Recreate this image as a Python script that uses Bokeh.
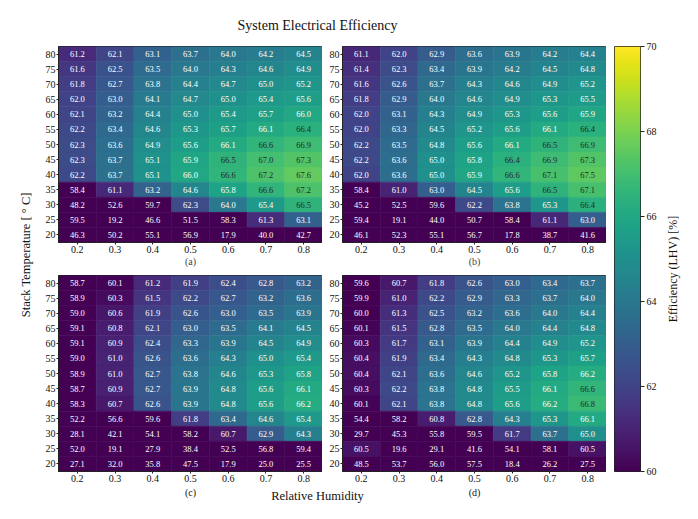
import numpy as np
from bokeh.plotting import figure
from bokeh.models import ColumnDataSource, LinearColorMapper, FixedTicker, Range1d
from bokeh.layouts import row, column
from bokeh.palettes import Viridis256
from bokeh.transform import linear_cmap
from bokeh.embed import file_html
from bokeh.resources import INLINE

FONT = "Liberation Serif"

rh = [0.2, 0.3, 0.4, 0.5, 0.6, 0.7, 0.8]
temps = [80, 75, 70, 65, 60, 55, 50, 45, 40, 35, 30, 25, 20]

eff_a = [
    [61.2, 62.1, 63.1, 63.7, 64.0, 64.2, 64.5],
    [61.6, 62.5, 63.5, 64.0, 64.3, 64.6, 64.9],
    [61.8, 62.7, 63.8, 64.4, 64.7, 65.0, 65.2],
    [62.0, 63.0, 64.1, 64.7, 65.0, 65.4, 65.6],
    [62.1, 63.2, 64.4, 65.0, 65.4, 65.7, 66.0],
    [62.2, 63.4, 64.6, 65.3, 65.7, 66.1, 66.4],
    [62.3, 63.6, 64.9, 65.6, 66.1, 66.6, 66.9],
    [62.3, 63.7, 65.1, 65.9, 66.5, 67.0, 67.3],
    [62.2, 63.7, 65.1, 66.0, 66.6, 67.2, 67.6],
    [58.4, 61.1, 63.2, 64.6, 65.8, 66.6, 67.2],
    [48.2, 52.6, 59.7, 62.3, 64.0, 65.4, 66.5],
    [59.5, 19.2, 46.6, 51.5, 58.3, 61.3, 63.1],
    [46.3, 50.2, 55.1, 56.9, 17.9, 40.0, 42.7],
]
eff_b = [
    [61.1, 62.0, 62.9, 63.6, 63.9, 64.2, 64.4],
    [61.4, 62.3, 63.4, 63.9, 64.2, 64.5, 64.8],
    [61.6, 62.6, 63.7, 64.3, 64.6, 64.9, 65.2],
    [61.8, 62.9, 64.0, 64.6, 64.9, 65.3, 65.5],
    [62.0, 63.1, 64.3, 64.9, 65.3, 65.6, 65.9],
    [62.0, 63.3, 64.5, 65.2, 65.6, 66.1, 66.4],
    [62.2, 63.5, 64.8, 65.6, 66.1, 66.5, 66.9],
    [62.2, 63.6, 65.0, 65.8, 66.4, 66.9, 67.3],
    [62.0, 63.6, 65.0, 65.9, 66.6, 67.1, 67.5],
    [58.4, 61.0, 63.0, 64.5, 65.6, 66.5, 67.1],
    [45.2, 52.5, 59.6, 62.2, 63.8, 65.3, 66.4],
    [59.4, 19.1, 44.0, 50.7, 58.4, 61.1, 63.0],
    [46.1, 52.3, 55.1, 56.7, 17.8, 38.7, 41.6],
]
eff_c = [
    [58.7, 60.1, 61.2, 61.9, 62.4, 62.8, 63.2],
    [58.9, 60.3, 61.5, 62.2, 62.7, 63.2, 63.6],
    [59.0, 60.6, 61.9, 62.6, 63.0, 63.5, 63.9],
    [59.1, 60.8, 62.1, 63.0, 63.5, 64.1, 64.5],
    [59.1, 60.9, 62.4, 63.3, 63.9, 64.5, 64.9],
    [59.0, 61.0, 62.6, 63.6, 64.3, 65.0, 65.4],
    [58.9, 61.0, 62.7, 63.8, 64.6, 65.3, 65.8],
    [58.7, 60.9, 62.7, 63.9, 64.8, 65.6, 66.1],
    [58.3, 60.7, 62.6, 63.9, 64.8, 65.6, 66.2],
    [52.2, 56.6, 59.6, 61.8, 63.4, 64.6, 65.4],
    [28.1, 42.1, 54.1, 58.2, 60.7, 62.9, 64.3],
    [52.0, 19.1, 27.9, 38.4, 52.5, 56.8, 59.4],
    [27.1, 32.0, 35.8, 47.5, 17.9, 25.0, 25.5],
]
eff_d = [
    [59.6, 60.7, 61.8, 62.6, 63.0, 63.4, 63.7],
    [59.9, 61.0, 62.2, 62.9, 63.3, 63.7, 64.0],
    [60.0, 61.3, 62.5, 63.2, 63.6, 64.0, 64.4],
    [60.1, 61.5, 62.8, 63.5, 64.0, 64.4, 64.8],
    [60.3, 61.7, 63.1, 63.9, 64.4, 64.9, 65.2],
    [60.4, 61.9, 63.4, 64.3, 64.8, 65.3, 65.7],
    [60.4, 62.1, 63.6, 64.6, 65.2, 65.8, 66.2],
    [60.3, 62.2, 63.8, 64.8, 65.5, 66.1, 66.6],
    [60.1, 62.1, 63.8, 64.8, 65.6, 66.2, 66.8],
    [54.4, 58.2, 60.8, 62.8, 64.3, 65.3, 66.1],
    [29.7, 45.3, 55.8, 59.5, 61.7, 63.7, 65.0],
    [60.5, 19.6, 29.1, 41.6, 54.1, 58.1, 60.5],
    [48.5, 53.7, 56.0, 57.5, 18.4, 26.2, 27.5],
]
panel_labels = ["(a)", "(b)", "(c)", "(d)"]
cbar_ticks = [60, 62, 64, 66, 68, 70]
VMIN, VMAX = 60, 70

title_text = "System Electrical Efficiency"
xlabel_text = "Relative Humidity"
ylabel_text = "Stack Temperature [ \u00b0 C]"
clabel_text = "Efficiency (LHV) [%]"

FRAME_W, FRAME_H = 264, 196
TOP_B, MID_B, BOT_B = 33, 14, 14


def make_source(vals):
    xs, ys, vs, labels, tcs = [], [], [], [], []
    for i, t in enumerate(temps):
        for j, h in enumerate(rh):
            v = vals[i][j]
            xs.append(h)
            ys.append(t)
            vs.append(v)
            labels.append(f"{v:.1f}")
            tcs.append("#262626" if v >= 66.25 else "white")
    return ColumnDataSource(dict(x=xs, y=ys, v=vs, label=labels, tc=tcs))


def style_axis(ax):
    ax.major_label_text_font = FONT
    ax.major_label_text_font_size = "10px"
    ax.major_label_text_color = "#111111"
    ax.axis_line_color = "#222222"
    ax.major_tick_line_color = "#222222"
    ax.major_tick_in = 0
    ax.major_tick_out = 2
    ax.major_label_standoff = 1
    ax.minor_tick_line_color = None


def make_panel(vals, left_border, bottom_border, xlabel=None):
    p = figure(width=left_border + FRAME_W, height=FRAME_H + bottom_border,
               x_range=Range1d(0.15, 0.85), y_range=Range1d(17.5, 82.5),
               output_backend="svg", toolbar_location=None, title=None,
               min_border_left=left_border, min_border_right=0,
               min_border_top=0, min_border_bottom=bottom_border)
    src = make_source(vals)
    cmap = linear_cmap("v", Viridis256, VMIN, VMAX)
    p.rect("x", "y", width=0.1, height=5, source=src, fill_color=cmap,
           line_color=cmap, line_width=0.6)
    p.text("x", "y", text="label", source=src, text_align="center",
           text_baseline="middle", text_font_size="8.5px",
           text_font={"value": FONT}, text_color="tc")
    p.xaxis.ticker = FixedTicker(ticks=rh)
    p.yaxis.ticker = FixedTicker(ticks=temps)
    style_axis(p.xaxis[0])
    style_axis(p.yaxis[0])
    if xlabel:
        p.xaxis.axis_label = xlabel
        p.xaxis.axis_label_text_font = FONT
        p.xaxis.axis_label_text_font_size = "10px"
        p.xaxis.axis_label_text_font_style = "normal"
        p.xaxis.axis_label_standoff = 0
    p.xgrid.visible = False
    p.ygrid.visible = False
    p.outline_line_color = "#222222"
    p.outline_line_width = 1
    return p


def blank_fig(w, h):
    f = figure(width=w, height=h, x_range=Range1d(0, w), y_range=Range1d(0, h),
               output_backend="svg", toolbar_location=None, title=None,
               x_axis_location=None, y_axis_location=None,
               min_border=0, min_border_left=0, min_border_right=0,
               min_border_top=0, min_border_bottom=0)
    f.outline_line_color = None
    f.xgrid.visible = False
    f.ygrid.visible = False
    return f


pa = make_panel(eff_a, 24, TOP_B, panel_labels[0])
pb = make_panel(eff_b, 20, TOP_B, panel_labels[1])
pc = make_panel(eff_c, 24, BOT_B)
pd_ = make_panel(eff_d, 20, BOT_B)

YLAB_W = 34
MID_W = 24 + FRAME_W + 20 + FRAME_W  # 572
HEAD_H = 46
FOOT_H = 23
TOTAL_H = HEAD_H + (FRAME_H + TOP_B) + (FRAME_H + BOT_B) + FOOT_H
CB_W = 8 + 26 + 22
CLAB_W = 28

header = blank_fig(MID_W, HEAD_H)
header.text(x=[MID_W / 2 - 3], y=[HEAD_H - 25], text=[title_text],
            text_align="center", text_baseline="middle",
            text_font_size="14px", text_font={"value": FONT}, text_color="#111111")

footer = blank_fig(MID_W, FOOT_H)
footer.text(x=[24 + FRAME_W / 2, 24 + FRAME_W + 20 + FRAME_W / 2],
            y=[FOOT_H - 7, FOOT_H - 7], text=panel_labels[2:],
            text_align="center", text_baseline="middle",
            text_font_size="10px", text_font={"value": FONT}, text_color="#111111")
footer.text(x=[MID_W / 2 - 3], y=[FOOT_H - 10], text=[xlabel_text],
            text_align="center", text_baseline="middle",
            text_font_size="12.5px", text_font={"value": FONT}, text_color="#111111")

ylab = blank_fig(YLAB_W, TOTAL_H)
ylab.text(x=[25], y=[TOTAL_H - 249], text=[ylabel_text], angle=np.pi / 2,
          text_align="center", text_baseline="middle",
          text_font_size="12.5px", text_font={"value": FONT}, text_color="#111111")

# colorbar figure
cb = figure(width=CB_W, height=TOTAL_H, x_range=Range1d(0, 1),
            y_range=Range1d(VMIN, VMAX), output_backend="svg",
            toolbar_location=None, title=None,
            x_axis_location=None, y_axis_location="right",
            min_border_left=8, min_border_right=22,
            min_border_top=HEAD_H, min_border_bottom=TOTAL_H - HEAD_H - 425)
mapper = LinearColorMapper(palette=Viridis256, low=VMIN, high=VMAX)
grad = np.linspace(VMIN, VMAX, 256).reshape(256, 1)
cb.image(image=[grad], x=0, y=VMIN, dw=1, dh=VMAX - VMIN, color_mapper=mapper)
cb.yaxis.ticker = FixedTicker(ticks=cbar_ticks)
style_axis(cb.yaxis[0])
cb.yaxis.major_tick_out = 4
cb.yaxis.major_label_standoff = 2
cb.yaxis.axis_line_color = None
cb.xgrid.visible = False
cb.ygrid.visible = False
cb.outline_line_color = "#222222"

clab = blank_fig(CLAB_W, TOTAL_H)
clab.text(x=[10], y=[TOTAL_H - 266], text=[clabel_text], angle=np.pi / 2,
          text_align="center", text_baseline="middle",
          text_font_size="12px", text_font={"value": FONT}, text_color="#111111")

mid = column(header, row(pa, pb), row(pc, pd_), footer)
layout = row(ylab, mid, cb, clab)

with open("out.html", "w") as f:
    f.write(file_html(layout, INLINE))
